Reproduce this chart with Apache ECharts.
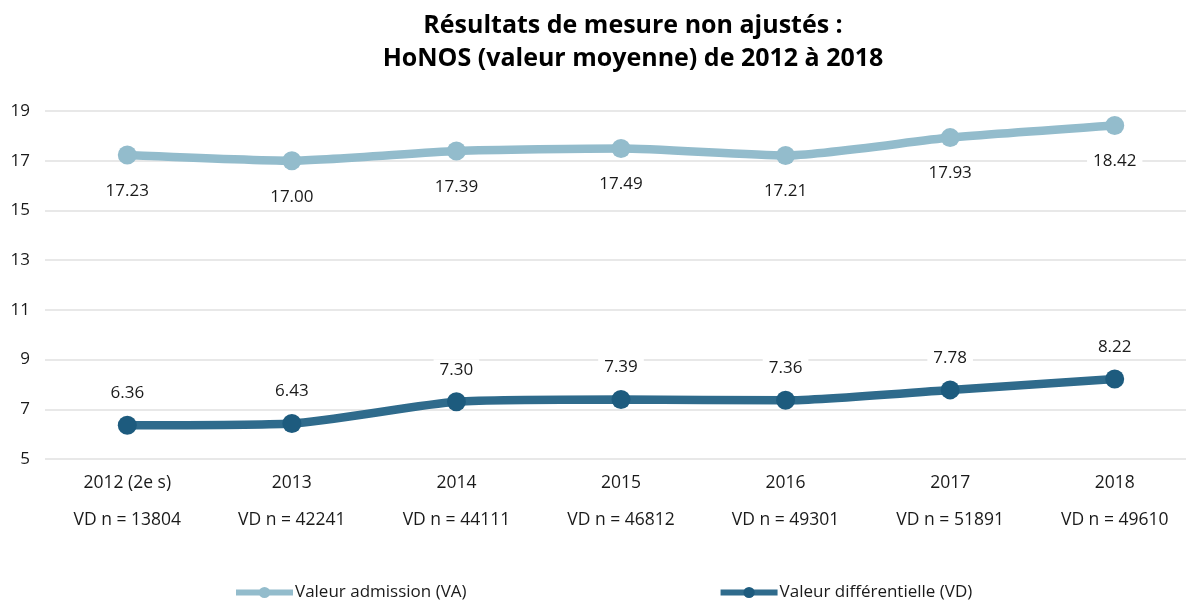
<!DOCTYPE html>
<html>
<head>
<meta charset="utf-8">
<script src="https://cdn.jsdelivr.net/npm/echarts@6/dist/echarts.min.js"></script>
<style>html,body{margin:0;padding:0;background:#fff;overflow:hidden}#c{width:1197px;height:600px}</style>
</head>
<body>
<div id="c"></div>
<script>
const categories = ['2012 (2e s)', '2013', '2014', '2015', '2016', '2017', '2018'];
const sampleSizes = ['VD n = 13804', 'VD n = 42241', 'VD n = 44111', 'VD n = 46812', 'VD n = 49301', 'VD n = 51891', 'VD n = 49610'];
const admissionValues = [17.23, 17.00, 17.39, 17.49, 17.21, 17.93, 18.42];
const differentialValues = [6.36, 6.43, 7.30, 7.39, 7.36, 7.78, 8.22];
const seriesNames = ['Valeur admission (VA)', 'Valeur différentielle (VD)'];
const titleLines = ['Résultats de mesure non ajustés :', 'HoNOS (valeur moyenne) de 2012 à 2018'];

const FONT = '"Open Sans", "Noto Sans", sans-serif';
const chart = echarts.init(document.getElementById('c'), null, {renderer: 'canvas'});
const labelStyle = {
  show: true,
  formatter: p => p.value.toFixed(2),
  fontFamily: FONT, fontSize: 17, color: '#1a1a1a',
  backgroundColor: '#fff', padding: [2, 6]
};
chart.setOption({
  animation: false,
  title: {
    text: titleLines.join('\n'),
    left: 628, top: 4, textAlign: 'center',
    textStyle: {fontFamily: FONT, fontSize: 25, fontWeight: 'bold', color: '#000', lineHeight: 33}
  },
  legend: {
    bottom: -1, left: 233, itemGap: 251, padding: 0,
    itemWidth: 57, itemHeight: 14,
    lineStyle: {width: 6},
    textStyle: {fontFamily: FONT, fontSize: 17, color: '#1a1a1a', padding: [0, 0, 0, -3]},
    data: seriesNames
  },
  grid: {left: 45, top: 111, right: 0, height: 348, containLabel: false},
  xAxis: {
    type: 'category', data: categories, boundaryGap: true,
    axisLine: {show: false}, axisTick: {show: false},
    axisLabel: {
      fontFamily: FONT, fontSize: 17.5, color: '#1a1a1a', margin: 6, lineHeight: 37,
      formatter: (v, i) => v + '\n' + sampleSizes[i]
    }
  },
  yAxis: {
    type: 'value', min: 5, max: 19, interval: 2,
    axisLine: {show: false}, axisTick: {show: false},
    axisLabel: {fontFamily: FONT, fontSize: 17, color: '#1a1a1a', margin: 15},
    splitLine: {lineStyle: {color: '#e0e0e0', width: 1.5}}
  },
  series: [
    {
      name: seriesNames[0], type: 'line', data: admissionValues, smooth: 0.2,
      symbol: 'circle', symbolSize: 19,
      lineStyle: {color: '#93bccc', width: 8.5},
      itemStyle: {color: '#93bccc'},
      label: Object.assign({position: 'bottom', distance: 16}, labelStyle)
    },
    {
      name: seriesNames[1], type: 'line', data: differentialValues, smooth: 0.2,
      symbol: 'circle', symbolSize: 19,
      lineStyle: {color: '#2f6b8c', width: 8.5},
      itemStyle: {color: '#1d5b7e'},
      label: Object.assign({position: 'top', distance: 12}, labelStyle)
    }
  ]
});
</script>
</body>
</html>
